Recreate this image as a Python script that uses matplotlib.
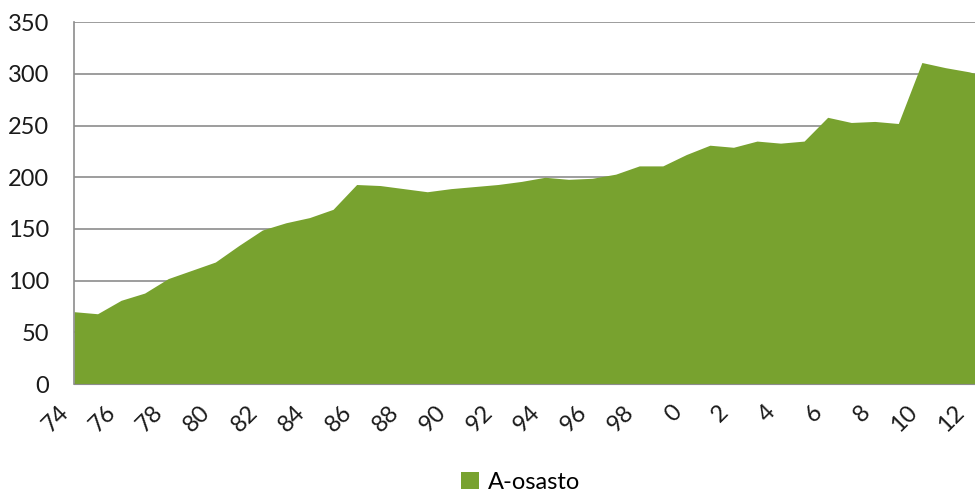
import numpy as np
import matplotlib.pyplot as plt
import matplotlib.transforms as mtransforms
from matplotlib.patches import Patch

plt.rcParams['font.family'] = ['Lato', 'DejaVu Sans']

years = list(range(1974, 2014))
values = [70, 68, 81, 88, 102, 110, 118, 134, 149, 156, 161, 169, 193, 192, 189, 186,
          189, 191, 193, 196, 200, 198, 199, 203, 211, 211, 222, 231, 229, 235, 233, 235,
          258, 253, 254, 252, 311, 306, 302, 296]
tick_years = list(range(1974, 2013, 2))
tick_labels = [str(y % 100) for y in tick_years]
yticks = [0, 50, 100, 150, 200, 250, 300, 350]

green = '#78A22F'

fig = plt.figure(figsize=(9.75, 4.93), dpi=100)
ax = fig.add_axes([0.0759, 0.221, 0.93, 0.734])

ax.fill_between(years, values, 0, color=green, linewidth=0, zorder=2)

ax.set_xlim(1974, 2012.5)
ax.set_ylim(0, 350)
ax.set_yticks(yticks)
ax.set_xticks(tick_years)
ax.set_xticklabels(tick_labels, rotation=45, ha='right', va='center',
                   rotation_mode='anchor')
ax.grid(axis='y', color='#8c8c8c', linewidth=1.2, zorder=1)
ax.tick_params(length=0, labelsize=17, colors='#1a1a1a')
ax.tick_params(axis='x', pad=18)
ax.tick_params(axis='y', pad=18)

# nudge the slanted labels left, like the original
shift = mtransforms.ScaledTranslation(-6 / 72, 0, fig.dpi_scale_trans)
for lbl in ax.get_xticklabels():
    lbl.set_transform(lbl.get_transform() + shift)

for s in ['top', 'right']:
    ax.spines[s].set_visible(False)
ax.spines['left'].set_color('#8c8c8c')
ax.spines['bottom'].set_color('#8c8c8c')
ax.spines['left'].set_linewidth(1.2)

fig.legend(handles=[Patch(facecolor=green, label='A-osasto')], loc='center',
           bbox_to_anchor=(0.534, 0.022), frameon=False, fontsize=17,
           handlelength=0.75, handleheight=0.75, handletextpad=0.4)

fig.savefig('out.png', dpi=100)
